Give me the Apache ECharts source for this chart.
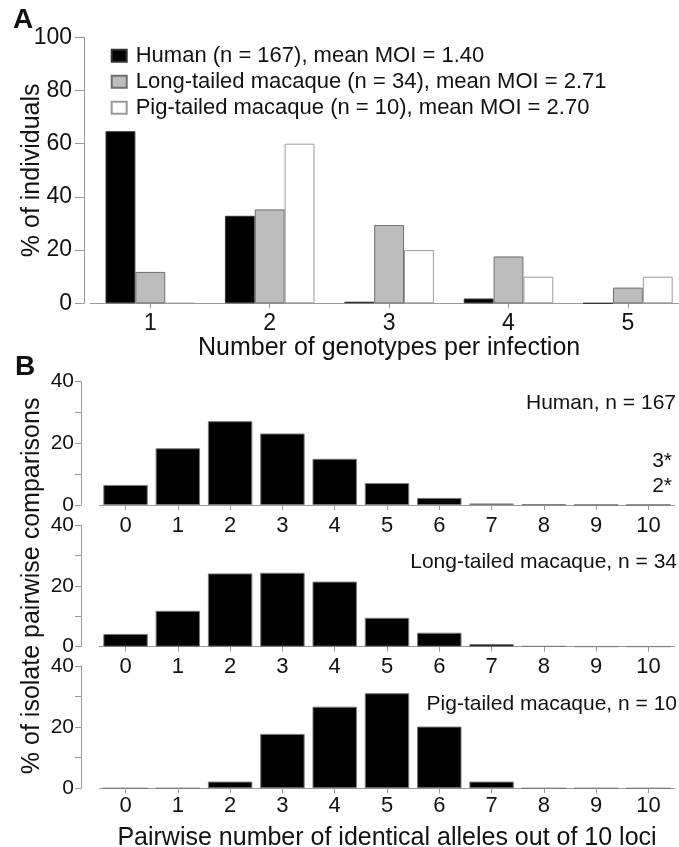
<!DOCTYPE html>
<html>
<head>
<meta charset="utf-8">
<script src="https://cdn.jsdelivr.net/npm/echarts@6/dist/echarts.min.js"></script>
<style>
html,body{margin:0;padding:0;background:#fff;}
#chart{width:679px;height:847px;}
</style>
</head>
<body>
<div id="chart"></div>
<script>
// ---- Data ----
const genotypeCats = ['1', '2', '3', '4', '5'];
const humanMOI = [64.7, 32.9, 0.6, 1.8, 0];
const longMOI = [11.8, 35.3, 29.4, 17.6, 5.9];
const pigMOI = [0, 60, 20, 10, 10];
const seriesNamesA = [
  'Human (n = 167), mean MOI = 1.40',
  'Long-tailed macaque (n = 34), mean MOI = 2.71',
  'Pig-tailed macaque (n = 10), mean MOI = 2.70'
];

const alleleCats = ['0', '1', '2', '3', '4', '5', '6', '7', '8', '9', '10'];
const humanPairs = [6.5, 18.4, 27.2, 23.2, 15.0, 7.1, 2.3, 0.5, 0.15, 0.08, 0.08];
const longPairs = [4.2, 11.8, 24.1, 24.3, 21.4, 9.5, 4.6, 0.9, 0.2, 0.08, 0.08];
const pigPairs = [0, 0, 2.2, 17.8, 26.7, 31.1, 20.2, 2.2, 0, 0, 0];
const panelBLabels = ['Human, n = 167', 'Long-tailed macaque, n = 34', 'Pig-tailed macaque, n = 10'];
const humanNotes = ['3*', '2*'];

// ---- Styling ----
const FONT = '"Liberation Sans", Arial, Helvetica, sans-serif';
const AXIS_GRAY = '#9a9a9a';
const TXT = '#111';

const chart = echarts.init(document.getElementById('chart'), null, {renderer: 'canvas'});

const bGrids = [
  {top: 381.7, height: 123.3, labelMargin: 9.5},
  {top: 525, height: 121.7, labelMargin: 8.8},
  {top: 666, height: 122.3, labelMargin: 6.2}
];
const bData = [humanPairs, longPairs, pigPairs];

const grids = [{left: 90.6, right: -8.6, top: 37.3, height: 266, outerBoundsMode: 'none', containLabel: false}];
bGrids.forEach(g => grids.push({left: 99.4, right: 4.4, top: g.top, height: g.height, outerBoundsMode: 'none', containLabel: false}));

const xAxes = [{
  type: 'category', gridIndex: 0, data: genotypeCats,
  axisLine: {show: true, lineStyle: {color: AXIS_GRAY, width: 1}},
  axisTick: {show: true, alignWithLabel: true, length: 5, lineStyle: {color: AXIS_GRAY}},
  axisLabel: {fontSize: 23, color: TXT, fontFamily: FONT, margin: 9},
  name: 'Number of genotypes per infection', nameLocation: 'middle', nameGap: 32,
  nameMoveOverlap: false,
  nameTextStyle: {fontSize: 25, color: TXT, fontFamily: FONT}
}];
const yAxes = [{
  type: 'value', gridIndex: 0, min: 0, max: 100, interval: 20, offset: 6.6,
  axisLine: {show: true, lineStyle: {color: AXIS_GRAY, width: 1}},
  axisTick: {show: true, length: 9, lineStyle: {color: AXIS_GRAY}},
  axisLabel: {fontSize: 23, color: TXT, fontFamily: FONT, margin: 12},
  splitLine: {show: false},
  name: '% of individuals', nameLocation: 'middle', nameGap: 39.5,
  nameMoveOverlap: false,
  nameTextStyle: {fontSize: 25, color: TXT, fontFamily: FONT}
}];
bGrids.forEach((g, i) => {
  xAxes.push({
    type: 'category', gridIndex: i + 1, data: alleleCats,
    axisLine: {show: true, lineStyle: {color: AXIS_GRAY, width: 1}},
    axisTick: {show: true, alignWithLabel: true, length: 5, lineStyle: {color: AXIS_GRAY}},
    axisLabel: {fontSize: 22, color: TXT, fontFamily: FONT, margin: g.labelMargin, interval: 0},
    name: i === 2 ? 'Pairwise number of identical alleles out of 10 loci' : '',
    nameLocation: 'middle', nameGap: 37, nameMoveOverlap: false,
    nameTextStyle: {fontSize: 25, color: TXT, fontFamily: FONT}
  });
  yAxes.push({
    type: 'value', gridIndex: i + 1, min: 0, max: 40, interval: 10, offset: 18.4,
    axisLine: {show: true, lineStyle: {color: AXIS_GRAY, width: 1}},
    axisTick: {show: true, length: 6, lineStyle: {color: AXIS_GRAY}},
    axisLabel: {fontSize: 21, color: TXT, fontFamily: FONT, margin: 7,
      formatter: v => (v % 20 === 0 ? String(v) : '')},
    splitLine: {show: false},
    name: i === 1 ? '% of isolate pairwise comparisons' : '',
    nameLocation: 'middle', nameGap: 36.5, nameMoveOverlap: false,
    nameTextStyle: {fontSize: 25, color: TXT, fontFamily: FONT}
  });
});

const series = [
  {name: seriesNamesA[0], type: 'bar', xAxisIndex: 0, yAxisIndex: 0, data: humanMOI,
    barGap: '0%', barCategoryGap: '25%',
    itemStyle: {color: '#000', borderColor: '#333', borderWidth: 1}},
  {name: seriesNamesA[1], type: 'bar', xAxisIndex: 0, yAxisIndex: 0, data: longMOI,
    barGap: '0%', barCategoryGap: '25%',
    itemStyle: {color: '#bdbdbd', borderColor: '#6e6e6e', borderWidth: 1}},
  {name: seriesNamesA[2], type: 'bar', xAxisIndex: 0, yAxisIndex: 0, data: pigMOI,
    barGap: '0%', barCategoryGap: '25%',
    itemStyle: {color: '#fff', borderColor: '#9a9a9a', borderWidth: 1}}
];
bData.forEach((d, i) => {
  series.push({
    name: panelBLabels[i], type: 'bar', xAxisIndex: i + 1, yAxisIndex: i + 1, data: d,
    barCategoryGap: '15%',
    itemStyle: {color: '#000', borderColor: '#7a7a7a', borderWidth: 1}
  });
});

function txt(text, x, y, size, align, bold) {
  return {
    type: 'text', x: x, y: y, silent: true,
    style: {text: text, fill: TXT, font: (bold ? 'bold ' : '') + size + 'px ' + FONT,
      align: align, verticalAlign: 'middle', textAlign: align, textVerticalAlign: 'middle'}
  };
}

const graphics = [
  txt('A', 13, 20, 28, 'left', true),
  txt('B', 15, 367, 28, 'left', true),
  txt(panelBLabels[0], 676, 403, 21, 'right'),
  txt(panelBLabels[1], 677, 562, 21, 'right'),
  txt(panelBLabels[2], 677, 704, 21, 'right'),
  txt(humanNotes[0], 672, 461, 21, 'right'),
  txt(humanNotes[1], 672, 486, 21, 'right')
];

chart.setOption({
  animation: false,
  backgroundColor: '#fff',
  textStyle: {fontFamily: FONT},
  grid: grids,
  xAxis: xAxes,
  yAxis: yAxes,
  legend: {
    data: seriesNamesA, orient: 'vertical', left: 105.7, top: 39.7,
    itemWidth: 15, itemHeight: 12, itemGap: 4, icon: 'rect',
    textStyle: {fontSize: 22, lineHeight: 22, color: TXT, fontFamily: FONT, padding: [0, 0, 0, 4]},
    selectedMode: false
  },
  series: series,
  graphic: graphics
});
</script>
</body>
</html>
